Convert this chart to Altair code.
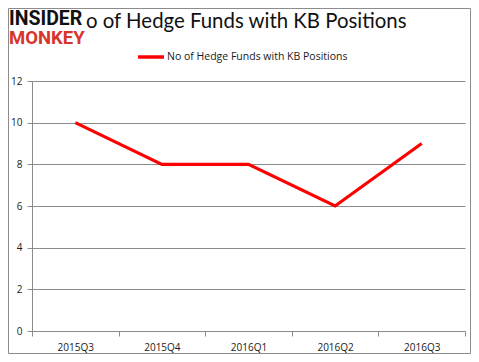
import altair as alt
import pandas as pd

quarters = ["2015Q3", "2015Q4", "2016Q1", "2016Q2", "2016Q3"]
funds = [10, 8, 8, 6, 9]
series_name = "No of Hedge Funds with KB Positions"
title_text = "No of Hedge Funds with KB Positions"
y_ticks = [0, 2, 4, 6, 8, 10, 12]

df = pd.DataFrame({"quarter": quarters, "funds": funds, "series": [series_name] * len(quarters)})
one = pd.DataFrame({"a": [0]})

FONT = "Open Sans"

line = alt.Chart(df).mark_line(strokeWidth=3.2).encode(
    x=alt.X("quarter:N", sort=quarters, title=None,
            scale=alt.Scale(type="band", paddingInner=0, paddingOuter=0),
            axis=alt.Axis(labelAngle=0, tickBand="extent", grid=False, domainColor="#8c8c8c",
                          tickColor="#8c8c8c", tickSize=5, labelPadding=6, labelFontSize=10,
                          labelFont=FONT, labelColor="#1a1a1a")),
    y=alt.Y("funds:Q", title=None,
            scale=alt.Scale(domain=[0, 12], nice=False),
            axis=alt.Axis(values=y_ticks, grid=True, gridColor="#8c8c8c", domainColor="#8c8c8c",
                          tickColor="#8c8c8c", tickSize=5, labelPadding=5, labelFontSize=10,
                          labelFont=FONT, labelColor="#1a1a1a")),
    color=alt.Color("series:N", scale=alt.Scale(range=["#ff0000"]),
                    legend=alt.Legend(orient="none", legendX=104, legendY=-39, title=None,
                                      symbolType="stroke", symbolSize=676, symbolStrokeWidth=3.5,
                                      labelFontSize=10.5, labelFont=FONT, labelColor="#1a1a1a",
                                      labelOffset=1, padding=0, labelLimit=0)),
)

# Title: first letter sits under the logo (as in the reference), rest starts after it
title_head = alt.Chart(one).mark_text(fontSize=20.4, font="Lato", align="right",
                                      baseline="alphabetic", color="#111111").encode(
    x=alt.value(52), y=alt.value(-53), text=alt.value(title_text[0]))
title_rest = alt.Chart(one).mark_text(fontSize=20.4, font="Lato", align="left",
                                      baseline="alphabetic", color="#111111").encode(
    x=alt.value(54), y=alt.value(-53), text=alt.value(title_text[1:]))

cover = alt.Chart(one).mark_rect(color="white").encode(
    x=alt.value(-23), x2=alt.value(53.5), y=alt.value(-72), y2=alt.value(-34))

logo1 = alt.Chart(one).mark_text(fontSize=19.5, font="Roboto", fontWeight="bold", align="left",
                                 baseline="alphabetic", color="#111111").encode(
    x=alt.value(-23), y=alt.value(-56), text=alt.value("INSIDER"))
logo2 = alt.Chart(one).mark_text(fontSize=18.5, font="Roboto", fontWeight="bold", align="left",
                                 baseline="alphabetic", color="#d8352a").encode(
    x=alt.value(-23), y=alt.value(-37), text=alt.value("MONKEY"))

border = alt.Chart(one).mark_rect(fill=None, stroke="#8c8c8c", strokeWidth=1).encode(
    x=alt.value(-23.5), x2=alt.value(438.5), y=alt.value(-72.5), y2=alt.value(272.5))

chart = alt.layer(line, title_head, title_rest, cover, logo1, logo2, border).properties(
    width=433, height=250,
    autosize=alt.AutoSizeParams(type="none"),
    padding={"left": 24, "top": 73, "right": 6, "bottom": 23},
).configure_view(stroke=None)

chart.save("out.html", embed_options={"renderer": "svg", "actions": False})
